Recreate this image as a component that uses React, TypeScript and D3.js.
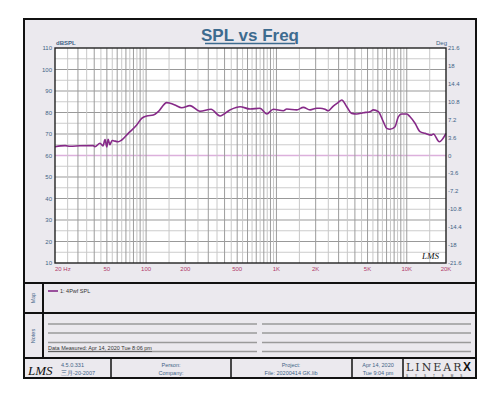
import React from "react";
import * as d3 from "d3";

const freqs = [20, 23.9, 26.1, 31.1, 39.3, 40.5, 44.3, 46.7, 48.4, 50, 51.1, 52.8, 54.8, 56, 61.2, 65, 73, 84.7, 92.5, 101, 113.6, 124, 144, 152.6, 166.7, 187.6, 217, 259, 315, 369, 440, 526, 627, 748, 842, 946, 1130, 1199, 1432, 1608, 1811, 2037, 2160, 2360, 2502, 2731, 2985, 3170, 3462, 3784, 4133, 4645, 5228, 5539, 6050, 6610, 7017, 7434, 8122, 8610, 9142, 10000, 10593, 11570, 12640, 13810, 15530, 15990, 17780, 20000];
const spl = [64.1, 64.6, 64.3, 64.5, 64.6, 64.1, 65.7, 64.5, 67.4, 64.0, 67.5, 65.0, 67.0, 66.9, 66.4, 67.2, 70.3, 74.2, 77.3, 78.4, 78.8, 80.4, 84.6, 84.3, 83.5, 82.2, 83.2, 80.6, 81.5, 78.4, 81.2, 82.7, 81.6, 82.0, 79.3, 81.5, 80.8, 81.6, 81.2, 82.4, 81.2, 82.0, 82.0, 81.5, 80.8, 83.0, 84.7, 85.8, 82.7, 79.6, 79.3, 79.9, 80.4, 81.2, 80.4, 75.7, 72.6, 72.2, 73.4, 78.0, 79.3, 79.3, 78.0, 75.0, 71.1, 70.3, 69.5, 70.0, 66.4, 70.3];

const leftTicks = [110, 100, 90, 80, 70, 60, 50, 40, 30, 20, 10];
const rightTicks = ["21.6", "18", "14.4", "10.8", "7.2", "3.6", "0", "-3.6", "-7.2", "-10.8", "-14.4", "-18", "-21.6"];
const freqTickValues = [20, 50, 100, 200, 500, 1000, 2000, 5000, 10000, 20000];
const freqTickLabels = ["20  Hz", "50", "100", "200", "500", "1K", "2K", "5K", "10K", "20K"];

const PL = 55, PR = 446, PT = 48, PB = 263;

export default function App() {
  const x = d3.scaleLog().domain([20, 20000]).range([PL, PR]);
  const y = d3.scaleLinear().domain([10, 110]).range([PB, PT]);
  const yr = d3.scaleLinear().domain([-21.6, 21.6]).range([PB, PT]);

  const gridV: { v: number; major: boolean }[] = [];
  for (const dec of [10, 100, 1000, 10000]) {
    for (let m = 1; m < 10; m += 0.5) {
      const v = m * dec;
      if (v > 20 && v < 20000) gridV.push({ v, major: Number.isInteger(m) });
    }
  }
  const gridH: { v: number; major: boolean }[] = [];
  for (let v = 15; v < 110; v += 5) gridH.push({ v, major: v % 10 === 0 });

  const line = d3
    .line<number>()
    .x((_, i) => x(freqs[i]))
    .y((d) => y(d))
    .curve(d3.curveMonotoneX);

  const blue = "#3f6386";
  const tickFont = "Liberation Sans, Arial, sans-serif";
  const noteLines = [324, 333, 342.5, 351.5];

  return (
    <svg width={500} height={398} style={{ position: "absolute", left: 0, top: 0 }} fontFamily={tickFont}>
      <rect x={0} y={0} width={500} height={398} fill="#ffffff" />
      <rect x={24} y={19} width={452} height={359} fill="#ebe9ee" stroke="#111" strokeWidth={2} />
      {/* title */}
      <text x={250} y={41} textAnchor="middle" fontSize={17} fontWeight="bold" fill="#3d6b8f">
        SPL vs Freq
      </text>
      <line x1={205} x2={295} y1={43.5} y2={43.5} stroke="#3d6b8f" strokeWidth={1.3} />
      {/* plot bg */}
      <rect x={PL} y={PT} width={PR - PL} height={PB - PT} fill="#ffffff" />
      {gridH.map((g) => (
        <line key={"h" + g.v} x1={PL} x2={PR} y1={y(g.v)} y2={y(g.v)}
          stroke={g.v === 60 ? "#dcb0dc" : g.major ? "#999999" : "#cccccc"} strokeWidth={g.v === 60 ? 1.5 : 1} />
      ))}
      {gridV.map((g) => (
        <line key={"v" + g.v} x1={x(g.v)} x2={x(g.v)} y1={PT} y2={PB}
          stroke={g.major ? "#9c9c9c" : "#c8c8c8"} strokeWidth={1} />
      ))}
      <path d={line(spl) || ""} fill="none" stroke="#862a88" strokeWidth={1.6} />
      <rect x={PL} y={PT} width={PR - PL} height={PB - PT} fill="none" stroke="#222" strokeWidth={1.4} />
      {/* axis labels */}
      <text x={PL + 1} y={PT - 3} fontSize={6} fontWeight="bold" fill={blue}>dBSPL</text>
      <text x={PR - 10} y={PT - 3} fontSize={6} fill={blue}>Deg</text>
      {leftTicks.map((t) => (
        <text key={"l" + t} x={PL - 3} y={y(t) + 2} fontSize={6} textAnchor="end" fill={blue}>{t}</text>
      ))}
      {rightTicks.map((t) => (
        <text key={"r" + t} x={PR + 2} y={yr(parseFloat(t)) + 2} fontSize={6} fill={blue}>{t}</text>
      ))}
      {freqTickValues.map((f, i) => (
        <text key={"f" + f} x={x(f)} y={PB + 8} fontSize={6}
          textAnchor={i === 0 ? "start" : "middle"} fill="#b03a6c">{freqTickLabels[i]}</text>
      ))}
      <text x={422} y={259} fontSize={9} fontStyle="italic" fontFamily="Liberation Serif, serif" fill="#111">LMS</text>
      {/* sections */}
      <line x1={24} x2={476} y1={283} y2={283} stroke="#111" strokeWidth={2} />
      <line x1={24} x2={476} y1={313} y2={313} stroke="#111" strokeWidth={2} />
      <line x1={24} x2={476} y1={358} y2={358} stroke="#111" strokeWidth={2} />
      <line x1={43} x2={43} y1={283} y2={358} stroke="#111" strokeWidth={2} />
      <text transform="translate(35,298) rotate(-90)" fontSize={5.5} textAnchor="middle" fill={blue}>Map</text>
      <text transform="translate(35,336) rotate(-90)" fontSize={5.5} textAnchor="middle" fill={blue}>Notes</text>
      <line x1={48} x2={58} y1={291} y2={291} stroke="#862a88" strokeWidth={1.6} />
      <text x={60} y={293} fontSize={5.5} fill="#333">1: 4Pwf SPL</text>
      {noteLines.map((ly) => (
        <g key={"n" + ly}>
          <line x1={48} x2={257} y1={ly} y2={ly} stroke="#9a9a9a" strokeWidth={1.3} />
          <line x1={262} x2={471} y1={ly} y2={ly} stroke="#9a9a9a" strokeWidth={1.3} />
        </g>
      ))}
      <text x={48} y={350} fontSize={5.5} fill="#333" textDecoration="underline">Data Measured:  Apr 14, 2020   Tue   8:06 pm</text>
      {/* footer */}
      {[111, 231, 352, 403].map((vx) => (
        <line key={"s" + vx} x1={vx} x2={vx} y1={358} y2={378} stroke="#111" strokeWidth={1.5} />
      ))}
      <text x={28} y={375} fontSize={13} fontStyle="italic" fontFamily="Liberation Serif, serif" fill="#111">LMS</text>
      <text x={61} y={367} fontSize={5.5} fill={blue}>4.5.0.331</text>
      <text x={61} y={375} fontSize={5.5} fill={blue}>三月-20-2007</text>
      <text x={171} y={367} fontSize={5.5} textAnchor="middle" fill={blue}>Person:</text>
      <text x={171} y={375} fontSize={5.5} textAnchor="middle" fill={blue}>Company:</text>
      <text x={291} y={367} fontSize={5.5} textAnchor="middle" fill={blue}>Project:</text>
      <text x={291} y={375} fontSize={5.5} textAnchor="middle" fill={blue}>File: 20200414 GK.lib</text>
      <text x={378} y={367} fontSize={5.5} textAnchor="middle" fill={blue}>Apr 14, 2020</text>
      <text x={378} y={375} fontSize={5.5} textAnchor="middle" fill={blue}>Tue  9:04 pm</text>
      <text x={406} y={371} fontSize={11} fontFamily="DejaVu Serif, serif" fontWeight={200} letterSpacing={2} fill="#333">LINEAR</text>
      <text x={463} y={371} fontSize={12} fontWeight="bold" fill="#111">X</text>
      <text x={406} y={376.5} fontSize={3} letterSpacing={7} fill="#333">SYSTEMS</text>
    </svg>
  );
}
